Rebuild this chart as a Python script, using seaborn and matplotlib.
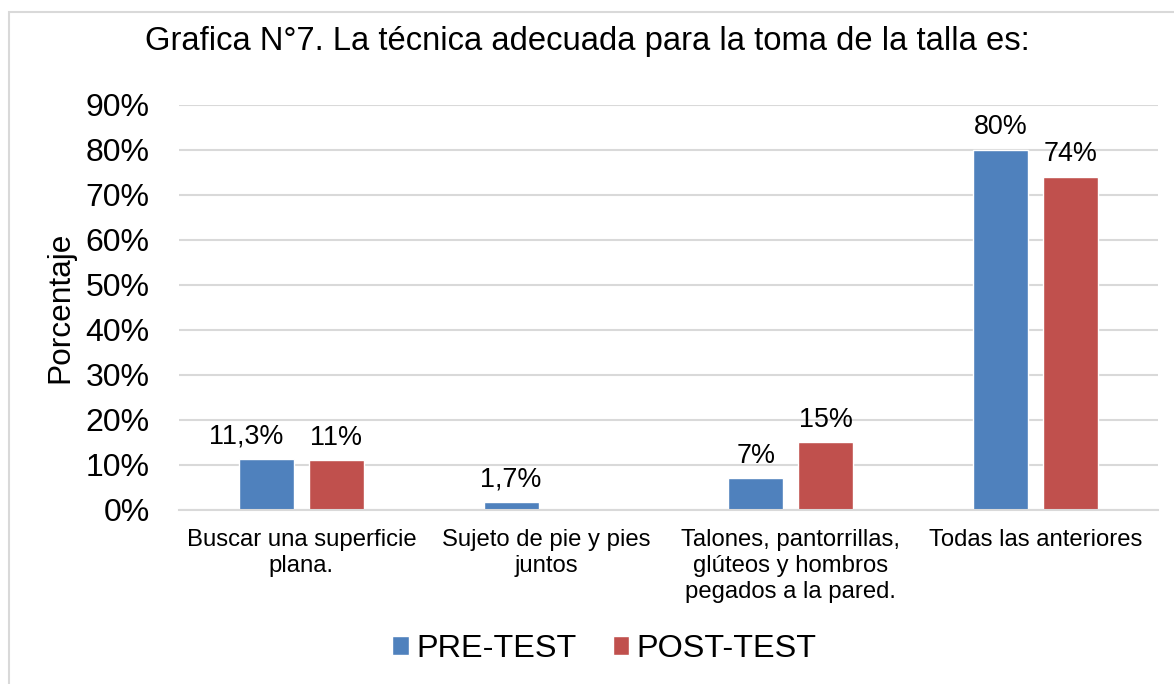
import matplotlib
matplotlib.use("Agg")
import matplotlib.pyplot as plt
import seaborn as sns
import pandas as pd
from matplotlib.patches import Rectangle

categories = [
    "Buscar una superficie\nplana.",
    "Sujeto de pie y pies\njuntos",
    "Talones, pantorrillas,\nglúteos y hombros\npegados a la pared.",
    "Todas las anteriores",
]
series_names = ["PRE-TEST", "POST-TEST"]
pre_test = [11.3, 1.7, 7, 80]
post_test = [11, 0, 15, 74]
pre_labels = ["11,3%", "1,7%", "7%", "80%"]
post_labels = ["11%", "", "15%", "74%"]
y_ticks = [0, 10, 20, 30, 40, 50, 60, 70, 80, 90]
colors = ["#4F81BD", "#C0504D"]

df = pd.DataFrame({
    "categoria": categories * 2,
    "serie": [series_names[0]] * 4 + [series_names[1]] * 4,
    "valor": pre_test + post_test,
})

sns.set_theme(style="white")
plt.rcParams["font.family"] = ["Liberation Sans", "DejaVu Sans"]
plt.rcParams["text.color"] = "black"
plt.rcParams["xtick.color"] = "black"
plt.rcParams["ytick.color"] = "black"
plt.rcParams["axes.labelcolor"] = "black"

fig = plt.figure(figsize=(11.74, 6.84), dpi=100)
ax = fig.add_axes([0.1525, 0.2544, 0.8339, 0.5921])

sns.barplot(data=df, x="categoria", y="valor", hue="serie", order=categories,
            hue_order=series_names, palette=colors, width=0.572, gap=0.213,
            saturation=1, ax=ax, errorbar=None)

ax.set_ylim(0, 90)
ax.set_xlim(-0.5, len(categories) - 0.5)
ax.set_yticks(y_ticks)
ax.set_yticklabels([f"{v}%" for v in y_ticks], fontsize=23)
ax.tick_params(axis="y", length=0, pad=21)
ax.tick_params(axis="x", length=0, pad=14, labelsize=17.2)
for lbl in ax.get_xticklabels():
    lbl.set_linespacing(1.22)
ax.set_xlabel("")
ax.set_ylabel("Porcentaje", fontsize=22.8)
ax.yaxis.set_label_coords(-0.106, 0.5)
ax.grid(axis="y", color="#D9D9D9", linewidth=1.5)
ax.set_axisbelow(True)
for side in ["top", "right", "left"]:
    ax.spines[side].set_visible(False)
ax.spines["bottom"].set_color("#D9D9D9")
ax.spines["bottom"].set_linewidth(1.5)

label_pad = 7
value_texts = []
for container, labels in zip(ax.containers, [pre_labels, post_labels]):
    value_texts.append(ax.bar_label(container, labels=labels, padding=label_pad,
                                    fontsize=19.4))
# nudge the first pre-test label left so it clears its neighbour
value_texts[0][0].xyann = (-14.5, label_pad)

handles, labels = ax.get_legend_handles_labels()
ax.get_legend().remove()
fig.legend(handles, labels, loc="center", bbox_to_anchor=(0.515, 0.051), ncol=2,
           frameon=False, fontsize=23.3, handlelength=0.5, handleheight=0.5,
           handletextpad=0.25, columnspacing=1.1)

fig.suptitle("Grafica N°7. La técnica adecuada para la toma de la talla es:",
             fontsize=23.6, x=0.5, y=0.94, va="center")

fig.patches.append(Rectangle((9 / 1174, -0.05), 1.2, 1 - 12 / 684 + 0.05,
                             transform=fig.transFigure, fill=False,
                             edgecolor="#D9D9D9", linewidth=1.5))

fig.savefig("out.png", dpi=100)
